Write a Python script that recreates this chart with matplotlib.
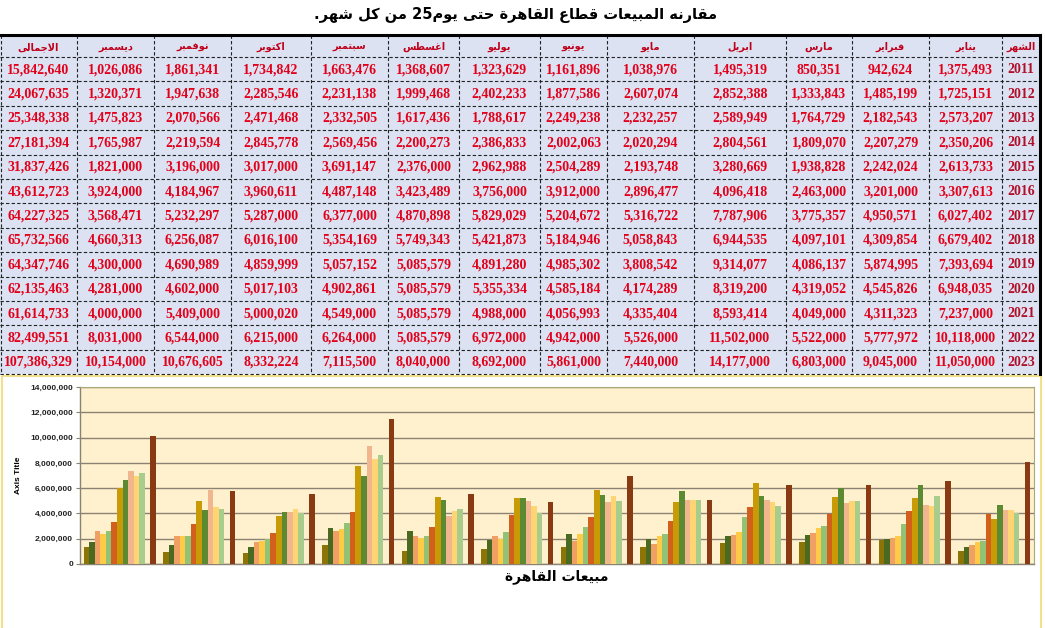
import re
import matplotlib
matplotlib.use("Agg")
import matplotlib.pyplot as plt
from matplotlib.patches import Rectangle
from matplotlib.ticker import FuncFormatter

# ---------------- data ----------------
years = ['2011', '2012', '2013', '2014', '2015', '2016', '2017',
         '2018', '2019', '2020', '2021', '2022', '2023']
month_names = ['يناير', 'فبراير', 'مارس', 'ابريل', 'مايو', 'يونيو',
               'يوليو', 'اغسطس', 'سبتمبر', 'اكتوبر', 'نوفمبر', 'ديسمبر']
year_header = 'الشهر'
total_header = 'الاجمالى'

jan = [1375493, 1725151, 2573207, 2350206, 2613733, 3307613, 6027402, 6679402, 7393694, 6948035, 7237000, 10118000, 11050000]
feb = [942624, 1485199, 2182543, 2207279, 2242024, 3201000, 4950571, 4309854, 5874995, 4545826, 4311323, 5777972, 9045000]
mar = [850351, 1333843, 1764729, 1809070, 1938828, 2463000, 3775357, 4097101, 4086137, 4319052, 4049000, 5522000, 6803000]
apr = [1495319, 2852388, 2589949, 2804561, 3280669, 4096418, 7787906, 6944535, 9314077, 8319200, 8593414, 11502000, 14177000]
may = [1038976, 2607074, 2232257, 2020294, 2193748, 2896477, 5316722, 5058843, 3808542, 4174289, 4335404, 5526000, 7440000]
jun = [1161896, 1877586, 2249238, 2002063, 2504289, 3912000, 5204672, 5184946, 4985302, 4585184, 4056993, 4942000, 5861000]
jul = [1323629, 2402233, 1788617, 2386833, 2962988, 3756000, 5829029, 5421873, 4891280, 5355334, 4988000, 6972000, 8692000]
aug = [1368607, 1999468, 1617436, 2200273, 2376000, 3423489, 4870898, 5749343, 5085579, 5085579, 5085579, 5085579, 8040000]
sep = [1663476, 2231138, 2332505, 2569456, 3691147, 4487148, 6377000, 5354169, 5057152, 4902861, 4549000, 6264000, 7115500]
oct_ = [1734842, 2285546, 2471468, 2845778, 3017000, 3960611, 5287000, 6016100, 4859999, 5017103, 5000020, 6215000, 8332224]
nov = [1861341, 1947638, 2070566, 2219594, 3196000, 4184967, 5232297, 6256087, 4690989, 4602000, 5409000, 6544000, 10676605]
dec = [1026086, 1320371, 1475823, 1765987, 1821000, 3924000, 3568471, 4660313, 4300000, 4281000, 4000000, 8031000, 10154000]
totals = [15842640, 24067635, 25348338, 27181394, 31837426, 43612723, 64227325,
          65732566, 64347746, 62135463, 61614733, 82499551, 107386329]

monthly = [jan, feb, mar, apr, may, jun, jul, aug, sep, oct_, nov, dec]

# chart series slots (the chart has an empty slot before the 2022 series)
chart_series = ['2011', '2012', '2013', '2014', '2015', '2016', '2017',
                '2018', '2019', '2020', '2021', None, '2022']
series_colors = ['#8C7406', '#4A6A22', '#F0A064', '#FFCA46', '#92C276', '#D2601C',
                 '#C89A06', '#5C8A32', '#F2B68E', '#FFD472', '#A8CC8C', None, '#8A3A12']

title_text = 'مقارنه المبيعات قطاع القاهرة حتى يوم25 من كل شهر.'
xlabel_text = 'مبيعات القاهرة'
ylabel_text = 'Axis Title'

# ---------------- minimal Arabic shaping ----------------
FORMS = {
    'ا': ('\uFE8D', '\uFE8E', None, None),
    'ب': ('\uFE8F', '\uFE90', '\uFE91', '\uFE92'),
    'ة': ('\uFE93', '\uFE94', None, None),
    'ت': ('\uFE95', '\uFE96', '\uFE97', '\uFE98'),
    'ج': ('\uFE9D', '\uFE9E', '\uFE9F', '\uFEA0'),
    'ح': ('\uFEA1', '\uFEA2', '\uFEA3', '\uFEA4'),
    'د': ('\uFEA9', '\uFEAA', None, None),
    'ر': ('\uFEAD', '\uFEAE', None, None),
    'س': ('\uFEB1', '\uFEB2', '\uFEB3', '\uFEB4'),
    'ش': ('\uFEB5', '\uFEB6', '\uFEB7', '\uFEB8'),
    'ط': ('\uFEC1', '\uFEC2', '\uFEC3', '\uFEC4'),
    'ع': ('\uFEC9', '\uFECA', '\uFECB', '\uFECC'),
    'غ': ('\uFECD', '\uFECE', '\uFECF', '\uFED0'),
    'ف': ('\uFED1', '\uFED2', '\uFED3', '\uFED4'),
    'ق': ('\uFED5', '\uFED6', '\uFED7', '\uFED8'),
    'ك': ('\uFED9', '\uFEDA', '\uFEDB', '\uFEDC'),
    'ل': ('\uFEDD', '\uFEDE', '\uFEDF', '\uFEE0'),
    'م': ('\uFEE1', '\uFEE2', '\uFEE3', '\uFEE4'),
    'ن': ('\uFEE5', '\uFEE6', '\uFEE7', '\uFEE8'),
    'ه': ('\uFEE9', '\uFEEA', '\uFEEB', '\uFEEC'),
    'و': ('\uFEED', '\uFEEE', None, None),
    'ى': ('\uFEEF', '\uFEF0', None, None),
    'ي': ('\uFEF1', '\uFEF2', '\uFEF3', '\uFEF4'),
}


def _dual(c):
    return c in FORMS and FORMS[c][2] is not None


def ar(text):
    out = []
    chars = list(text)
    i = 0
    prev_joins = False
    while i < len(chars):
        c = chars[i]
        if c not in FORMS:
            out.append(c)
            prev_joins = False
            i += 1
            continue
        nxt = chars[i + 1] if i + 1 < len(chars) else None
        if c == 'ل' and nxt == 'ا':
            out.append('\uFEFC' if prev_joins else '\uFEFB')
            prev_joins = False
            i += 2
            continue
        joins_next = _dual(c) and nxt is not None and nxt in FORMS
        iso, fin, ini, med = FORMS[c]
        if prev_joins and joins_next:
            out.append(med)
        elif prev_joins:
            out.append(fin)
        elif joins_next:
            out.append(ini)
        else:
            out.append(iso)
        prev_joins = _dual(c)
        i += 1
    shaped = ''.join(out)[::-1]
    return re.sub(r'[0-9]+', lambda m: m.group(0)[::-1], shaped)


# ---------------- figure ----------------
W, H = 1045, 628
fig = plt.figure(figsize=(W / 100, H / 100), dpi=100)
fig.patch.set_facecolor('white')

# overlay axes in pixel coordinates for table & decorations
tab = fig.add_axes([0, 0, 1, 1])
tab.set_xlim(0, W)
tab.set_ylim(H, 0)
tab.axis('off')

# title
tab.text(516, 15, ar(title_text), ha='center', va='center', fontsize=10.5,
         fontweight='bold', family='DejaVu Sans', color='black')

col_edges = [0, 77, 154, 231, 311, 388, 459, 540, 607, 694, 786, 852, 929, 1002, 1040]
table_top = 35
header_h = 22
row_h = 24.4
n_rows = len(years)
table_bottom = table_top + header_h + n_rows * row_h

cell_bg = '#DCE2F2'
tab.add_patch(Rectangle((col_edges[0], table_top), col_edges[-1] - col_edges[0],
                        table_bottom - table_top, facecolor=cell_bg, edgecolor='none', zorder=1))

# grid lines (dashed)
for x in col_edges[1:-1]:
    tab.plot([x, x], [table_top, table_bottom], color='#222222', lw=0.8, ls=(0, (3, 2)), zorder=2)
tab.plot([col_edges[0] + 0.5] * 2, [table_top, table_bottom], color='#222222', lw=0.8, ls=(0, (3, 2)), zorder=2)
ys = [table_top + header_h + r * row_h for r in range(n_rows)]
for y in ys + [table_bottom]:
    tab.plot([col_edges[0], col_edges[-1]], [y, y], color='#222222', lw=0.8, ls=(0, (3, 2)), zorder=2)
# thick outer top/right border
tab.plot([col_edges[0], col_edges[-1]], [table_top, table_top], color='black', lw=2.2, zorder=3)
tab.plot([col_edges[-1], col_edges[-1]], [table_top, table_bottom], color='black', lw=2.2, zorder=3)

# column contents in visual (left to right) order
visual_headers = [total_header] + month_names[::-1] + [year_header]
visual_values = [totals] + monthly[::-1] + [years]

head_color = '#C0001A'
val_color = '#E2001A'
year_color = '#B0102A'
for ci in range(len(visual_headers)):
    xc = (col_edges[ci] + col_edges[ci + 1]) / 2
    tab.text(xc, table_top + header_h / 2 + 1, ar(visual_headers[ci]), ha='center', va='center',
             fontsize=7, fontweight='bold', family='DejaVu Sans', color=head_color, zorder=4)
    for r in range(n_rows):
        v = visual_values[ci][r]
        s = v if isinstance(v, str) else f'{v:,}'
        col = year_color if isinstance(v, str) else val_color
        tab.text(xc, ys[r] + row_h / 2 + 0.5, s, ha='center', va='center', fontsize=10,
                 fontweight='bold', family='Liberation Serif', color=col, zorder=4)

# chart outer frame (light yellow)
tab.add_patch(Rectangle((2, table_bottom + 2), 1039, H - table_bottom + 10, facecolor='none',
                        edgecolor='#F2E08A', lw=1.5, zorder=1))

# ---------------- bar chart ----------------
px0, px1, py0, py1 = 80, 1034, 387, 564
ax = fig.add_axes([px0 / W, (H - py1) / H, (px1 - px0) / W, (py1 - py0) / H])
ax.set_facecolor('#FFF0CE')
n_slots = len(chart_series)
group_w = 0.905
bw = group_w / n_slots
for s, (yr, colr) in enumerate(zip(chart_series, series_colors)):
    if yr is None:
        continue
    yi = years.index(yr)
    xs = [m - group_w / 2 + (s + 0.5) * bw for m in range(len(monthly))]
    vals = [monthly[m][yi] for m in range(len(monthly))]
    ax.bar(xs, vals, width=bw, color=colr, edgecolor='none', zorder=3)

ax.set_xlim(-0.5, len(monthly) - 0.5)
ax.set_ylim(0, 14000000)
ax.set_yticks(range(0, 14000001, 2000000))
ax.yaxis.set_major_formatter(FuncFormatter(lambda v, p: f'{int(v):,}'))
ax.set_xticks([])
ax.grid(axis='y', color='#8A8272', lw=1.0, zorder=1)
for sp in ['left', 'bottom']:
    ax.spines[sp].set_color('#8A8272')
    ax.spines[sp].set_linewidth(1.0)
for sp in ['top', 'right']:
    ax.spines[sp].set_color('#A8A878')
    ax.spines[sp].set_linewidth(0.8)
ax.tick_params(axis='y', length=3, width=0.8, color='#8A8272', pad=2)
for lab in ax.get_yticklabels():
    lab.set_fontsize(6)
    lab.set_fontweight('bold')
    lab.set_family('Liberation Sans')
    lab.set_color('#222222')

ax.set_ylabel(ylabel_text, fontsize=6, fontweight='bold', family='Liberation Sans', labelpad=6)
tab.text((px0 + px1) / 2, 577, ar(xlabel_text), ha='center', va='center', fontsize=10,
         fontweight='bold', family='DejaVu Sans', color='black')

fig.savefig('out.png', dpi=100, facecolor='white')
